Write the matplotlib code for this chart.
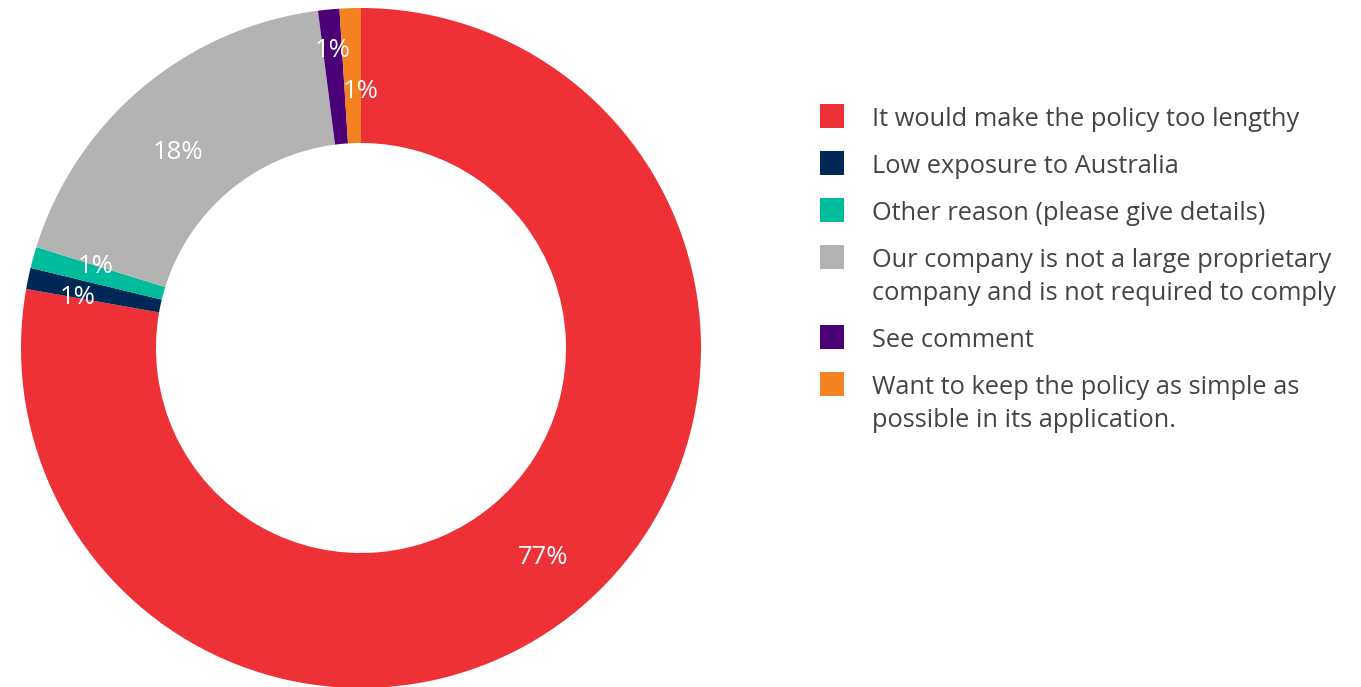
import matplotlib
matplotlib.use("Agg")
import matplotlib.pyplot as plt
from matplotlib.patches import Rectangle
import numpy as np

# --- data ---
labels = [
    "It would make the policy too lengthy",
    "Low exposure to Australia",
    "Other reason (please give details)",
    "Our company is not a large proprietary\ncompany and is not required to comply",
    "See comment",
    "Want to keep the policy as simple as\npossible in its application.",
]
values = [77, 1, 1, 18, 1, 1]
pct_labels = ["77%", "1%", "1%", "18%", "1%", "1%"]

colors = ["#EE3037", "#002856", "#00BC9C", "#B3B3B3", "#4B0078", "#F58221"]
# label placement inside the ring (radius, angle nudge in degrees)
label_radius = [0.815, 0.846, 0.817, 0.787, 0.88, 0.753]
label_nudge = [1.0, 1.8, -1.5, 3.0, 0.0, -1.8]

W, H = 1361, 687
fig = plt.figure(figsize=(W / 100, H / 100), dpi=100)

# donut axes: centre (361, 348) px, outer radius 340 px
cx, cy, r = 361, 348, 340
ax = fig.add_axes([(cx - r) / W, (H - cy - r) / H, 2 * r / W, 2 * r / H])
wedges, _ = ax.pie(values, colors=colors, startangle=90, counterclock=False,
                   radius=1.0, wedgeprops=dict(width=0.397, linewidth=0))
ax.set_xlim(-1, 1)
ax.set_ylim(-1, 1)
ax.set_aspect("equal")
ax.axis("off")

for w, txt, rr, dn in zip(wedges, pct_labels, label_radius, label_nudge):
    ang = np.deg2rad((w.theta1 + w.theta2) / 2 + dn)
    ax.text(rr * np.cos(ang), rr * np.sin(ang), txt, ha="center", va="center",
            color="white", fontsize=18.5, family="Open Sans")

# --- legend drawn by hand so squares line up with the first text line ---
y = 116
line_h = 33
gap = 47
for lab, col in zip(labels, colors):
    fig.add_artist(Rectangle((820 / W, (H - y - 12) / H), 24 / W, 24 / H,
                             transform=fig.transFigure, color=col, lw=0))
    lines = lab.split("\n")
    for i, ln in enumerate(lines):
        fig.text(872 / W, (H - y - 10 - i * line_h) / H, ln, ha="left",
                 va="baseline", fontsize=18.3, color="#444444",
                 family="Open Sans")
    y += gap + (len(lines) - 1) * line_h

fig.savefig("out.png", dpi=100)
